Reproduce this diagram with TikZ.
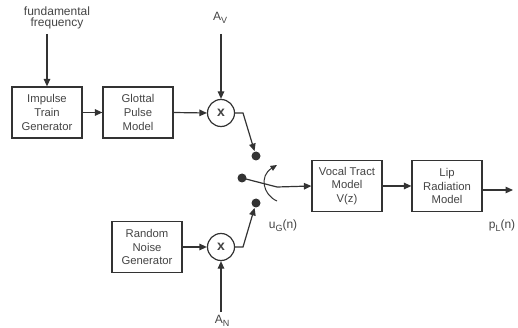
\documentclass[tikz,border=0pt]{standalone}
\usepackage{fontspec}
\setmainfont{Liberation Sans}
\usetikzlibrary{arrows.meta}
\definecolor{ink}{HTML}{333333}
\definecolor{txt}{HTML}{444444}
\newcommand{\sbs}[1]{\raisebox{-0.45ex}{\fontsize{9}{9}\selectfont #1}}
\begin{document}
\begin{tikzpicture}[x=1pt,y=-1pt,
  line width=1.2pt,
  every node/.style={text=txt,font=\fontsize{11.3}{13.6}\selectfont},
  blk/.style={draw=ink,minimum width=70pt,minimum height=51pt,align=center,inner sep=1pt},
  mult/.style={draw=ink,circle,minimum size=27pt,inner sep=0pt,font=\fontsize{14}{14}\selectfont\bfseries},
  sdot/.style={circle,fill=ink,minimum size=9pt,inner sep=0pt},
  lbl/.style={inner sep=0pt,font=\fontsize{12}{13}\selectfont},
  arr/.style={draw=ink,-{Triangle[length=7.5pt,width=6.5pt]}},
  ln/.style={draw=ink}]
\useasboundingbox (0,0) rectangle (518,328);

\node[lbl,align=center] (ff) at (57,18) {fundamental\\[-2pt]frequency};
\node[blk] (itg) at (47,112.5) {Impulse\\Train\\Generator};
\node[blk] (gpm) at (138,112.5) {Glottal\\Pulse\\Model};
\node[mult] (m1) at (221,113) {x};
\node[lbl] (av) at (220,18) {A\sbs{V}};
\node[blk] (rng) at (147,247) {Random\\Noise\\Generator};
\node[mult] (m2) at (221,247) {x};
\node[lbl] (an) at (222,321) {A\sbs{N}};
\node[sdot] (d1) at (256,156) {};
\node[sdot] (d0) at (242,178) {};
\node[sdot] (d2) at (256,203) {};
\node[blk] (vt) at (347,186) {Vocal Tract\\Model\\V(z)};
\node[blk] (lr) at (447,186) {Lip\\Radiation\\Model};
\node[lbl] (ug) at (283,226) {u\sbs{G}(n)};
\node[lbl] (pl) at (502,226) {p\sbs{L}(n)};
\coordinate (c1) at (243,113);
\coordinate (c2) at (243,247);
\coordinate (sw) at (277,187);
\coordinate (out) at (513,190);
\coordinate (avs) at (221,34);
\coordinate (ans) at (221,312);
\coordinate (ffs) at (47,34);

\draw[arr] (ffs) -- (itg.north);
\draw[arr] (itg.east) -- (gpm.west);
\draw[arr] (gpm.east) -- (m1.west);
\draw[arr] (avs) -- (m1.north);
\draw[arr] (rng.east) -- (m2.west);
\draw[arr] (ans) -- (m2.south);
\draw[arr] (m1.east) -- (c1) -- (d1);
\draw[arr] (m2.east) -- (c2) -- (d2);
\draw[arr] (d0.center) -- (sw) -- (vt.west);
\draw[arr] (vt.east) -- (lr.west);
\draw[arr] (lr.east |- out) -- (out);
\draw[draw=ink,line width=1pt,-{Triangle[length=6.5pt,width=5.5pt]}] (277,201) .. controls (263,195) and (259,176) .. (277,165);
\end{tikzpicture}
\end{document}
